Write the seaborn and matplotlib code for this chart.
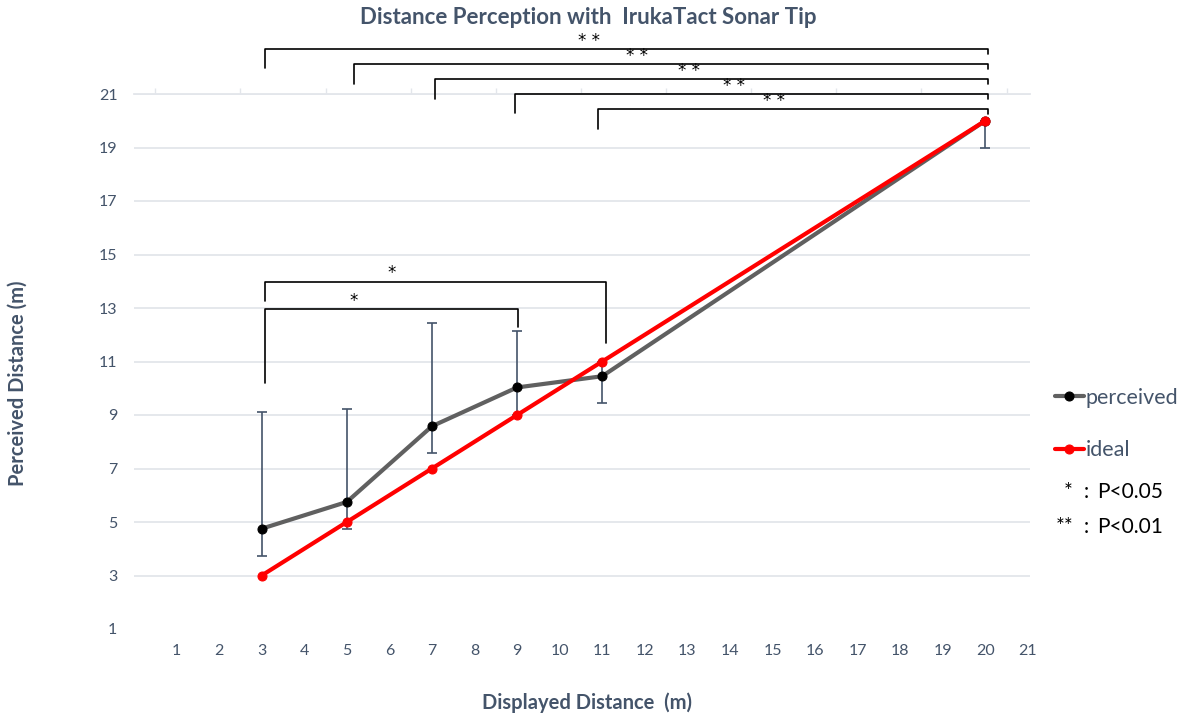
import numpy as np
import pandas as pd
import matplotlib
matplotlib.use("Agg")
import matplotlib.pyplot as plt
import seaborn as sns

# ---- data ----
displayed = [3, 5, 7, 9, 11, 20]
perceived = [4.75, 5.75, 8.58, 10.03, 10.45, 20.0]
perceived_low = [3.72, 4.75, 7.57, 9.0, 9.46, 19.0]
perceived_high = [9.12, 9.21, 12.43, 12.14, 11.0, 20.0]
ideal = [3, 5, 7, 9, 11, 20]
x_ticks = list(range(1, 22))
y_ticks = list(range(1, 22, 2))
top_ticks = [0.5, 2.5, 4.5, 6.5, 8.5, 10.5, 12.5, 14.5, 16.5, 18.5, 20.5]

# significance brackets (**)
dbl_left = [3.07, 5.18, 7.06, 8.95, 10.89]
dbl_right = [20.06, 20.06, 20.06, 20.06, 20.06]
dbl_y = [22.68, 22.12, 21.56, 21.0, 20.44]
dbl_left_bottom = [21.97, 21.38, 20.81, 20.29, 19.69]
dbl_star_x = [10.68, 11.81, 13.03, 14.09, 15.03]
# significance brackets (*)
sgl_left = [3.07, 3.07]
sgl_right = [11.09, 9.02]
sgl_y = [13.99, 12.96]
sgl_left_bottom = [13.26, 10.18]
sgl_right_bottom = [11.70, 12.30]
sgl_star_x = [6.05, 5.16]

TXT = "#44546A"
GRID = "#E3E6EB"

sns.set_theme(style="white")
plt.rcParams["font.family"] = ["Lato", "DejaVu Sans"]

W, H = 1188, 719
fig = plt.figure(figsize=(W / 100, H / 100), dpi=100)
ax = fig.add_axes([134 / W, 1 - 629 / H, (1030 - 134) / W, (629 - 94) / H])

df = pd.DataFrame({"displayed": displayed, "perceived": perceived, "ideal": ideal})

ax.errorbar(displayed, perceived,
            yerr=[np.array(perceived) - np.array(perceived_low),
                  np.array(perceived_high) - np.array(perceived)],
            fmt="none", ecolor=TXT, elinewidth=1.2, capsize=3.5, capthick=1.2, zorder=2)

sns.lineplot(data=df, x="displayed", y="perceived", ax=ax, color="#606060", lw=3,
             marker="o", markersize=6.5, markerfacecolor="black", markeredgecolor="black",
             label="perceived", zorder=3)
sns.lineplot(data=df, x="displayed", y="ideal", ax=ax, color="#FF0000", lw=3,
             marker="o", markersize=6.5, markerfacecolor="#FF0000", markeredgecolor="#FF0000",
             label="ideal", zorder=4)

ax.set_xlim(0, 21.05)
ax.set_ylim(1, 21)
ax.set_xticks(x_ticks)
ax.set_yticks(y_ticks)
ax.set_xticks(top_ticks, minor=True)
ax.set_xlabel("")
ax.set_ylabel("")
ax.yaxis.grid(True, color=GRID, lw=1.3)
ax.xaxis.grid(False)
ax.yaxis.get_gridlines()[0].set_visible(False)
for s in ["left", "right", "bottom"]:
    ax.spines[s].set_visible(False)
ax.spines["top"].set_color(GRID)
ax.spines["top"].set_linewidth(1.3)
ax.tick_params(axis="x", which="major", length=0, pad=11, labelsize=11.5, labelcolor=TXT)
ax.tick_params(axis="x", which="minor", top=True, bottom=False, length=4.5, width=1,
               color=GRID, direction="out", labeltop=False, labelbottom=False)
ax.tick_params(axis="y", length=0, pad=12, labelsize=11.5, labelcolor=TXT)

# brackets
for l, r, y, lb, sx in zip(dbl_left, dbl_right, dbl_y, dbl_left_bottom, dbl_star_x):
    ax.plot([l, l, r, r], [lb, y, y, y - 0.19], color="black", lw=1.2, clip_on=False, zorder=5)
    ax.text(sx, y - 0.02, "* *", ha="center", va="bottom", fontsize=12, color="black",
            family="DejaVu Sans")
for l, r, y, lb, rb, sx in zip(sgl_left, sgl_right, sgl_y, sgl_left_bottom, sgl_right_bottom, sgl_star_x):
    ax.plot([l, l, r, r], [lb, y, y, rb], color="black", lw=1.2, clip_on=False, zorder=5)
    ax.text(sx, y - 0.02, "*", ha="center", va="bottom", fontsize=12, color="black",
            family="DejaVu Sans")

ax.legend(frameon=False, loc="upper left", bbox_to_anchor=(1044 / W, 1 - 377 / H),
          bbox_transform=fig.transFigure, fontsize=15.5, handlelength=1.35,
          handletextpad=0.1, labelspacing=1.5, borderpad=0, labelcolor=TXT)

# p-value key
fig.text(1073 / W, 1 - 492 / H, "*", ha="right", va="center", fontsize=15, color="black")
fig.text(1086 / W, 1 - 492 / H, ":", ha="center", va="center", fontsize=15, color="black")
fig.text(1097 / W, 1 - 492 / H, "P<0.05", ha="left", va="center", fontsize=15, color="black")
fig.text(1073 / W, 1 - 527 / H, "**", ha="right", va="center", fontsize=15, color="black")
fig.text(1086 / W, 1 - 527 / H, ":", ha="center", va="center", fontsize=15, color="black")
fig.text(1097 / W, 1 - 527 / H, "P<0.01", ha="left", va="center", fontsize=15, color="black")

fig.text(588 / W, 1 - 18 / H, "Distance Perception with  IrukaTact Sonar Tip", ha="center",
         va="center", fontsize=16, weight="bold", color=TXT)
fig.text(587 / W, 1 - 703 / H, "Displayed Distance  (m)", ha="center", va="center",
         fontsize=14.5, weight="bold", color=TXT)
fig.text(18 / W, 1 - 383 / H, "Perceived Distance (m)", ha="center", va="center",
         rotation=90, fontsize=14.5, weight="bold", color=TXT)

fig.savefig("out.png", dpi=100)
